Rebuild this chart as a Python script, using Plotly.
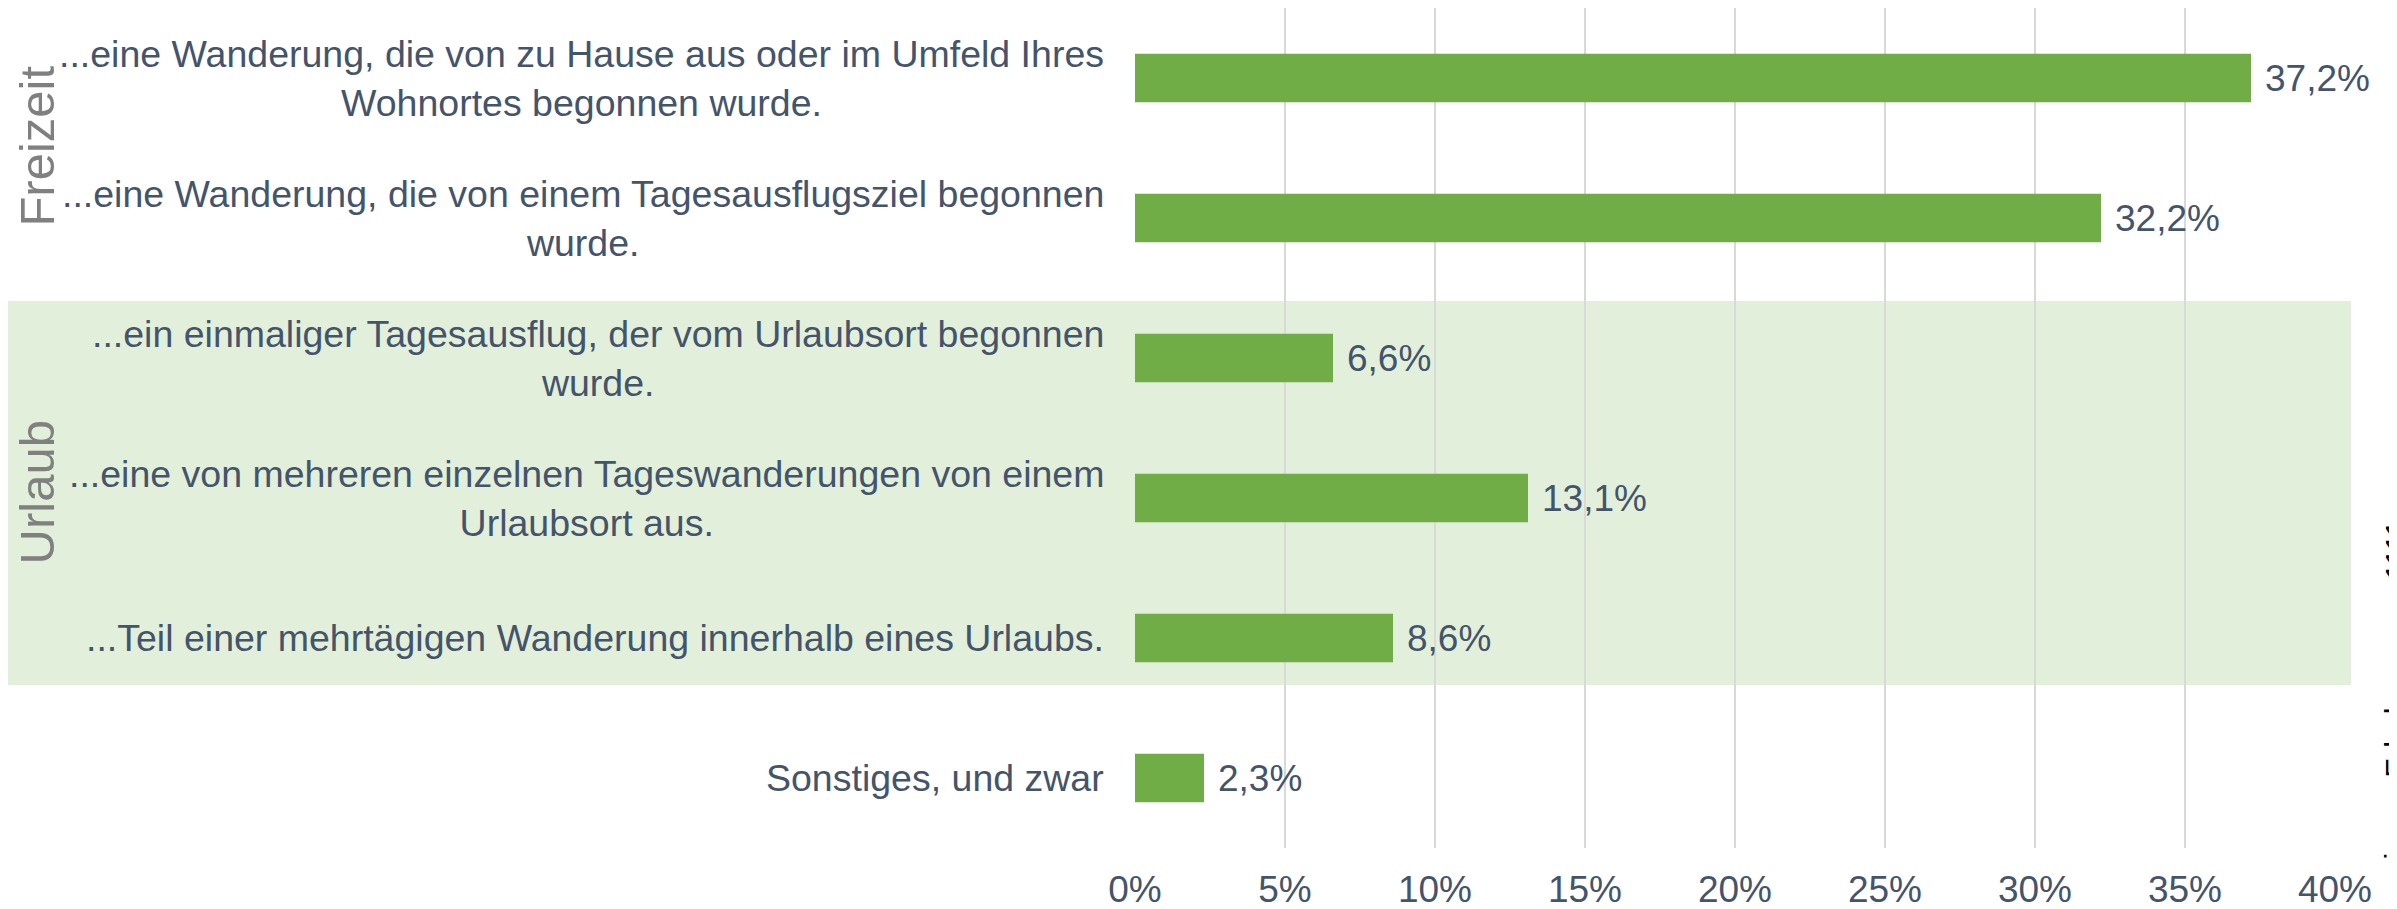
import plotly.graph_objects as go

categories = [
    "...eine Wanderung, die von zu Hause aus oder im Umfeld Ihres<br>Wohnortes begonnen wurde.",
    "...eine Wanderung, die von einem Tagesausflugsziel begonnen<br>wurde.",
    "...ein einmaliger Tagesausflug, der vom Urlaubsort begonnen<br>wurde.",
    "...eine von mehreren einzelnen Tageswanderungen von einem<br>Urlaubsort aus.",
    "...Teil einer mehrtägigen Wanderung innerhalb eines Urlaubs.",
    "Sonstiges, und zwar",
]
values = [37.2, 32.2, 6.6, 13.1, 8.6, 2.3]
tick_vals = [0, 5, 10, 15, 20, 25, 30, 35, 40]
tick_text = ["0%", "5%", "10%", "15%", "20%", "25%", "30%", "35%", "40%"]
group_labels = ["Freizeit", "Urlaub"]
source_text = "Quelle: eigene Erhebung, n = 1111"

# page body has an 8px default margin, so figure coords = screen coords - 8
OFF = 8
W, H = 2397, 909
L = 1135 - OFF
T = 8 - OFF
PW = 1200
PH = 840
R = W - L - PW
B = H - T - PH

FONT = "Liberation Sans, Arial, sans-serif"
TXT = "#44546A"
GREEN = "#70AD47"
BAND = "#E2EFDA"


def px_to_paper_x(px):
    return (px - OFF - L) / PW


def py_to_paper_y(py):
    return (T + PH - (py - OFF)) / PH


fig = go.Figure()
fig.add_trace(go.Bar(
    x=values, y=categories, orientation="h",
    marker=dict(color=GREEN, line=dict(width=0)),
    width=0.345, hoverinfo="skip",
))

annotations = []
for c in categories:
    annotations.append(dict(
        x=px_to_paper_x(1106), xref="paper", y=c, yref="y",
        text=c, showarrow=False, xanchor="right", yanchor="middle",
        align="center", font=dict(family=FONT, size=37.5, color=TXT),
    ))
for c, v in zip(categories, values):
    annotations.append(dict(
        x=v, xref="x", y=c, yref="y",
        text=f"{v:.1f}".replace(".", ",") + "%", showarrow=False,
        xanchor="left", yanchor="middle", xshift=12,
        font=dict(family=FONT, size=37, color=TXT),
    ))
group_pos = [0.49, 2.96]
for g, yp in zip(group_labels, group_pos):
    annotations.append(dict(
        x=px_to_paper_x(37), xref="paper", y=yp, yref="y",
        text=g, showarrow=False, textangle=-90,
        xanchor="center", yanchor="middle",
        font=dict(family=FONT, size=49, color="#808080"),
    ))
annotations.append(dict(
    x=px_to_paper_x(2376), xref="paper", y=py_to_paper_y(518), yref="paper",
    text=source_text, showarrow=False, textangle=-90,
    xanchor="left", yanchor="top",
    font=dict(family=FONT, size=30, color="#000000"),
))

fig.update_layout(
    width=W, height=H,
    margin=dict(l=L, r=R, t=T, b=B, autoexpand=False),
    paper_bgcolor="white", plot_bgcolor="white",
    showlegend=False,
    annotations=annotations,
    shapes=[dict(
        type="rect", xref="paper", yref="y",
        x0=px_to_paper_x(0), x1=px_to_paper_x(2351),
        y0=1.593, y1=4.336,
        fillcolor=BAND, line=dict(width=0), layer="below",
    )],
    xaxis=dict(
        range=[0, 40], tickvals=tick_vals, ticktext=tick_text,
        showgrid=True, gridcolor="#D9D9D9", gridwidth=2,
        zeroline=False, showline=False, ticks="",
        tickfont=dict(family=FONT, size=37, color=TXT),
        ticklabelstandoff=16,
    ),
    yaxis=dict(
        autorange="reversed", showticklabels=False, showgrid=False,
        zeroline=False, showline=False, ticks="",
        categoryorder="array", categoryarray=categories,
    ),
)

fig.write_html("out.html")
